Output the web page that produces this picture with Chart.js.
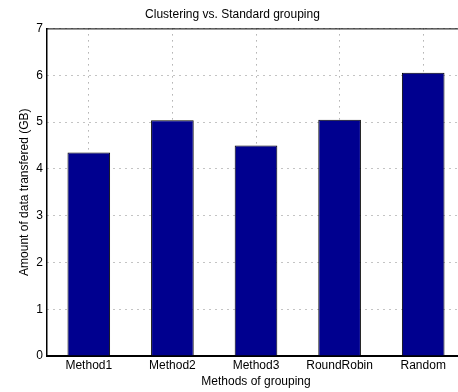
<!DOCTYPE html>
<html>
<head>
<meta charset="utf-8">
<script src="https://cdn.jsdelivr.net/npm/chart.js@4"></script>
<style>
  html, body { margin: 0; padding: 0; background: #fff; overflow: hidden; }
  #wrap { width: 470px; height: 392px; }
</style>
</head>
<body>
<div id="wrap"><canvas id="groupingChart" width="470" height="392"></canvas></div>
<script>
// du lieu
const categories = ["Method1", "Method2", "Method3", "RoundRobin", "Random"];
const dataTransfered = [4.35, 5.04, 4.50, 5.05, 6.05];
const yTicks = [0, 1, 2, 3, 4, 5, 6, 7];

const baseFont = { family: "'Liberation Sans', Arial, sans-serif", size: 12 };

// ke duong vien phia tren
const topBorder = {
  id: "topBorder",
  afterDraw(chart) {
    const { ctx, chartArea } = chart;
    ctx.save();
    ctx.strokeStyle = "#000";
    ctx.lineWidth = 1;
    ctx.beginPath();
    ctx.moveTo(chartArea.left, chartArea.top + 0.5);
    ctx.lineTo(chartArea.right, chartArea.top + 0.5);
    ctx.stroke();
    ctx.restore();
  }
};

const ctx = document.getElementById("groupingChart").getContext("2d");
new Chart(ctx, {
  type: "bar",
  data: {
    labels: categories,
    datasets: [{
      data: dataTransfered,
      backgroundColor: "#00008f",
      borderColor: "#000",
      borderWidth: 1,
      borderSkipped: "bottom",
      barPercentage: 0.51,
      categoryPercentage: 1
    }]
  },
  options: {
    responsive: false,
    animation: false,
    layout: { padding: { left: 0, right: 5, top: 0, bottom: 0 } },
    plugins: {
      legend: { display: false },
      tooltip: { enabled: false },
      title: {
        display: true,
        text: "Clustering vs. Standard grouping",
        color: "#000",
        font: { ...baseFont, weight: "normal" },
        padding: { top: 7, bottom: 7 }
      }
    },
    scales: {
      x: {
        offset: true,
        grid: { offset: false, color: "#888", lineWidth: 1, drawTicks: false },
        border: { display: true, color: "#000", width: 2, dash: [1, 5] },
        ticks: { color: "#000", font: baseFont, padding: 2, maxRotation: 0 },
        title: {
          display: true,
          text: "Methods of grouping",
          color: "#000",
          font: baseFont,
          padding: { top: 0, bottom: 3 }
        },
        afterFit(scale) { scale.height = 36; }
      },
      y: {
        min: 0,
        max: 7,
        afterBuildTicks(scale) { scale.ticks = yTicks.map(v => ({ value: v })); },
        grid: { color: "#888", lineWidth: 1, drawTicks: false },
        border: { display: true, color: "#000", width: 1.5, dash: [1, 5] },
        ticks: { color: "#000", font: baseFont, padding: 4 },
        title: {
          display: true,
          text: "Amount of data transfered (GB)",
          color: "#000",
          font: baseFont,
          padding: { top: 17, bottom: 0 }
        },
        afterFit(scale) { scale.width = 47; }
      }
    }
  },
  plugins: [topBorder]
});
</script>
</body>
</html>
